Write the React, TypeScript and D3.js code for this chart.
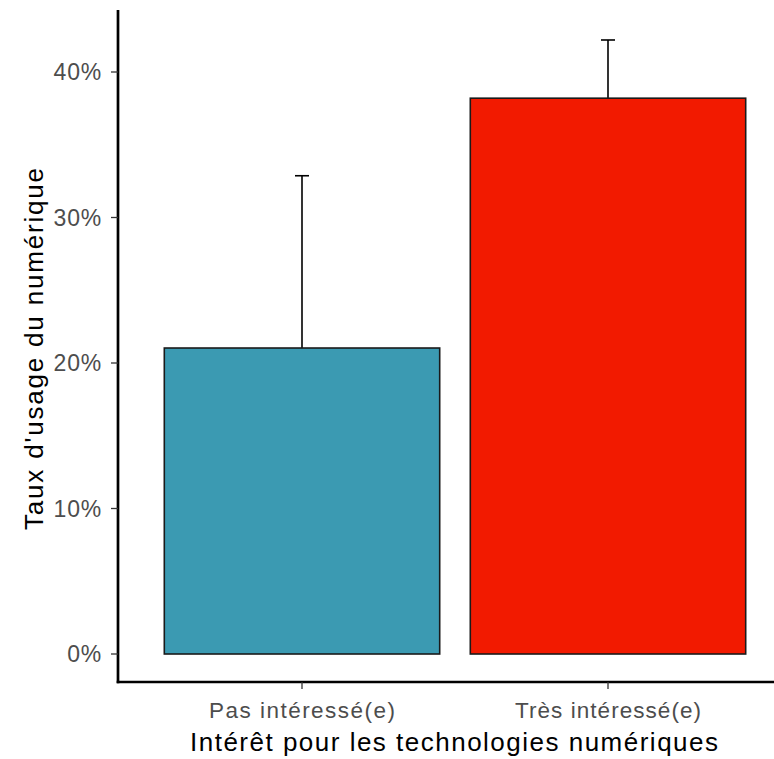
import React from "react";
import * as d3 from "d3";

const categories = ["Pas intéressé(e)", "Très intéressé(e)"];
const rates = [0.2103, 0.382];
const errorUpper = [0.3287, 0.422];
const errorLower = [0.0919, 0.342];
const barColors = ["#3B9AB2", "#F21A00"];
const yTicks = [0, 0.1, 0.2, 0.3, 0.4];
const xTitle = "Intérêt pour les technologies numériques";
const yTitle = "Taux d'usage du numérique";

const W = 774;
const H = 759;
const panelLeft = 118;
const panelTop = 10;
const panelBottom = 682;

export default function App() {
  const x = d3
    .scaleBand<string>()
    .domain(categories)
    .range([118.4, 118.4 + 2.2 * 306])
    .paddingInner(0.1)
    .paddingOuter(0.15);
  const y = d3.scaleLinear().domain([0, 0.4]).range([654, 72]);
  const fmt = d3.format(".0%");
  const font = "'Liberation Sans', Arial, sans-serif";
  const capW = 14;

  return (
    <svg
      width={W}
      height={H}
      style={{ position: "absolute", left: 0, top: 0, background: "#fff" }}
      fontFamily={font}
    >
      {categories.map((c, i) => {
        const cx = x(c)! + x.bandwidth() / 2;
        return (
          <g key={"e" + i} stroke="#000" strokeWidth={1.6}>
            <line x1={cx} x2={cx} y1={y(errorLower[i])} y2={y(errorUpper[i])} />
            <line x1={cx - capW / 2} x2={cx + capW / 2} y1={y(errorUpper[i])} y2={y(errorUpper[i])} />
          </g>
        );
      })}
      {categories.map((c, i) => (
        <rect
          key={"b" + i}
          x={x(c)!}
          width={x.bandwidth()}
          y={y(rates[i])}
          height={y(0) - y(rates[i])}
          fill={barColors[i]}
          stroke="#1a1a1a"
          strokeWidth={1.6}
        />
      ))}
      {/* axes */}
      <line x1={panelLeft} x2={panelLeft} y1={panelTop} y2={panelBottom + 1.3} stroke="#000" strokeWidth={2.7} />
      <line x1={panelLeft - 1.3} x2={W} y1={panelBottom} y2={panelBottom} stroke="#000" strokeWidth={2.7} />
      {yTicks.map((t) => (
        <g key={"yt" + t}>
          <line x1={panelLeft - 7} x2={panelLeft} y1={y(t)} y2={y(t)} stroke="#333" strokeWidth={1.3} />
          <text
            x={panelLeft - 16}
            y={y(t)}
            dy="0.36em"
            textAnchor="end"
            fontSize={23}
            letterSpacing={0.8}
            fill="#4D4D4D"
          >
            {fmt(t)}
          </text>
        </g>
      ))}
      {categories.map((c) => {
        const cx = x(c)! + x.bandwidth() / 2;
        return (
          <g key={"xt" + c}>
            <line x1={cx} x2={cx} y1={panelBottom} y2={panelBottom + 7} stroke="#333" strokeWidth={1.3} />
            <text
              x={cx}
              y={718}
              textAnchor="middle"
              fontSize={22.5}
              textLength={186}
              lengthAdjust="spacing"
              fill="#4D4D4D"
            >
              {c}
            </text>
          </g>
        );
      })}
      <text
        x={454}
        y={751}
        textAnchor="middle"
        fontSize={26}
        textLength={528}
        lengthAdjust="spacing"
        fill="#000"
      >
        {xTitle}
      </text>
      <text
        transform={`translate(43, ${(panelTop + panelBottom) / 2 + 3}) rotate(-90)`}
        textAnchor="middle"
        fontSize={26}
        textLength={362}
        lengthAdjust="spacing"
        fill="#000"
      >
        {yTitle}
      </text>
    </svg>
  );
}
